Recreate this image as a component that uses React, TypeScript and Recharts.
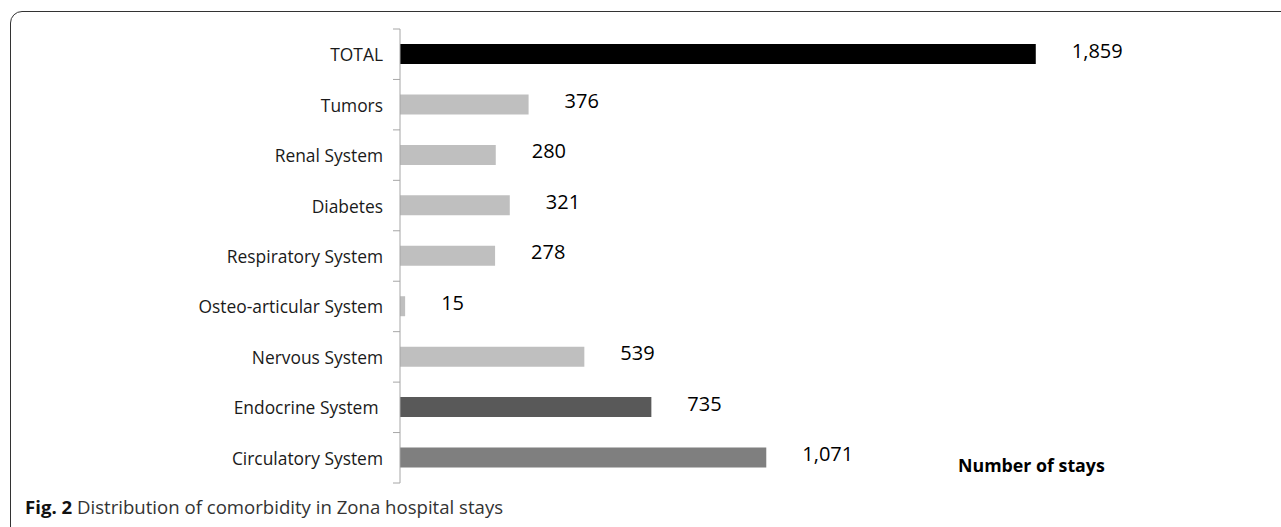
import { Bar, BarChart, Cell, LabelList, XAxis, YAxis } from "recharts";

const categories = [
  "TOTAL",
  "Tumors",
  "Renal System",
  "Diabetes",
  "Respiratory System",
  "Osteo-articular System",
  "Nervous System",
  "Endocrine System ",
  "Circulatory System",
];
const stays = [1859, 376, 280, 321, 278, 15, 539, 735, 1071];
const barColors = [
  "#000000",
  "#bfbfbf",
  "#bfbfbf",
  "#bfbfbf",
  "#bfbfbf",
  "#bfbfbf",
  "#bfbfbf",
  "#595959",
  "#7f7f7f",
];

const data = categories.map((name, i) => ({ name, stays: stays[i] }));

const FONT = "'Open Sans', 'Liberation Sans', sans-serif";
const W = 1281;
const H = 527;
const PLOT_TOP = 29;
const PLOT_BOTTOM = 483;
const AXIS_X = 400;
const BAND = (PLOT_BOTTOM - PLOT_TOP) / categories.length;

function CategoryTick(props: any) {
  const { x, y, payload, index } = props;
  const ax = x + 17;
  return (
    <g>
      <text
        x={x}
        y={y}
        textAnchor="end"
        dominantBaseline="central"
        fontFamily={FONT}
        fontSize={17.4}
        fill="#1a1a1a"
        style={{ whiteSpace: "pre" }}
      >
        {payload.value}
      </text>
      <line x1={ax - 7} x2={ax} y1={y - BAND / 2} y2={y - BAND / 2} stroke="#a6a6a6" />
      {index === categories.length - 1 && (
        <line x1={ax - 7} x2={ax} y1={y + BAND / 2} y2={y + BAND / 2} stroke="#a6a6a6" />
      )}
    </g>
  );
}

function ValueLabel(props: any) {
  const { x, y, width, height, value } = props;
  return (
    <text
      x={x + width + 36}
      y={y + height / 2 - 4}
      dominantBaseline="central"
      fontFamily={FONT}
      fontSize={20}
      fill="#000"
    >
      {Number(value).toLocaleString("en-US")}
    </text>
  );
}

export default function App() {
  return (
    <div style={{ position: "relative", width: W, height: H, overflow: "hidden", background: "#fff" }}>
      <style>{`body{margin:0}`}</style>
      <div
        style={{
          position: "absolute",
          left: 10,
          top: 11,
          width: 1320,
          height: 560,
          border: "1.5px solid #333",
          borderRadius: 12,
        }}
      />
      <div style={{ position: "absolute", left: 0, top: 0 }}>
        <BarChart
          width={W}
          height={H}
          data={data}
          layout="vertical"
          margin={{ top: PLOT_TOP, bottom: H - PLOT_BOTTOM, left: 0, right: W - AXIS_X - 684 }}
          barSize={20}
        >
          <XAxis type="number" domain={[0, 2000]} hide />
          <YAxis
            type="category"
            dataKey="name"
            width={AXIS_X}
            axisLine={{ stroke: "#a6a6a6" }}
            tickLine={false}
            tickSize={0}
            tickMargin={17}
            tick={<CategoryTick />}
            interval={0}
          />
          <Bar dataKey="stays" isAnimationActive={false}>
            {data.map((d, i) => (
              <Cell key={d.name} fill={barColors[i]} />
            ))}
            <LabelList dataKey="stays" content={<ValueLabel />} />
          </Bar>
        </BarChart>
      </div>
      <div
        style={{
          position: "absolute",
          left: 958,
          top: 453,
          fontFamily: FONT,
          fontWeight: 700,
          fontSize: 17.8,
          color: "#000",
          whiteSpace: "nowrap",
        }}
      >
        Number of stays
      </div>
      <div
        style={{
          position: "absolute",
          left: 25,
          top: 494,
          fontFamily: FONT,
          fontSize: 18.6,
          color: "#333",
          whiteSpace: "nowrap",
        }}
      >
        <b style={{ color: "#111" }}>Fig. 2</b> Distribution of comorbidity in Zona hospital stays
      </div>
    </div>
  );
}
